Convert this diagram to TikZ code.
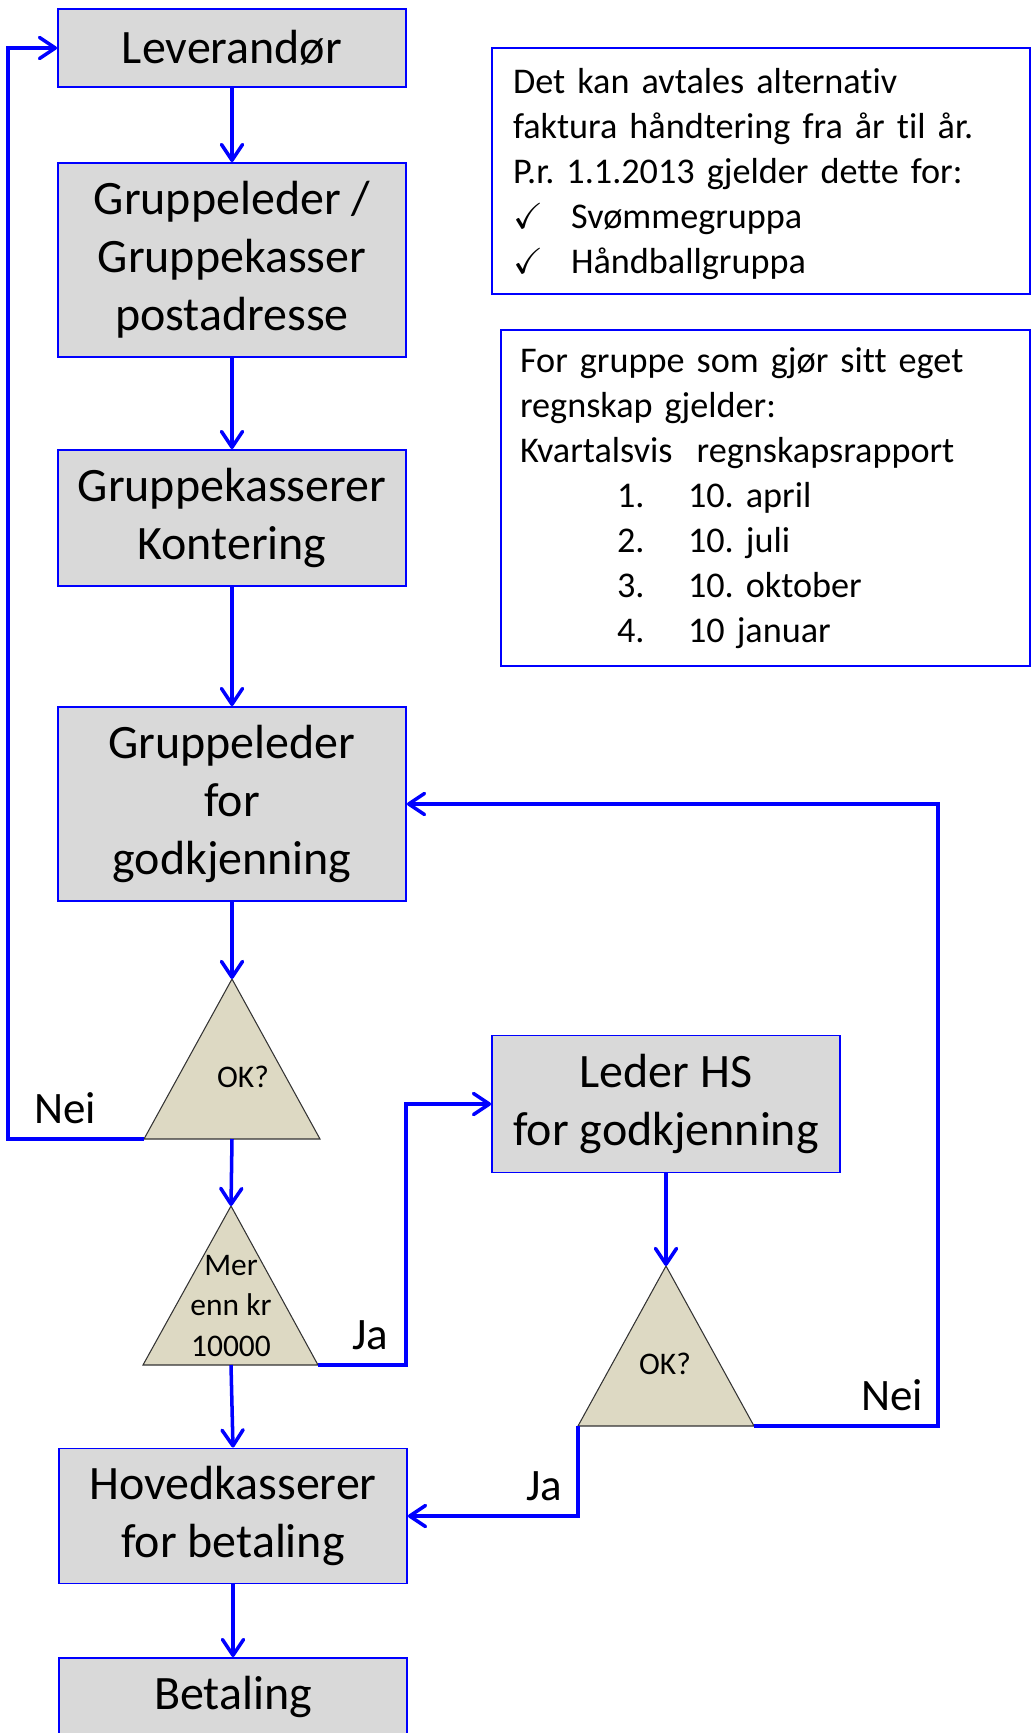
\documentclass[tikz,border=0pt]{standalone}
\usepackage{fontspec}
\setmainfont{Carlito}[Ligatures=NoCommon]
\usepackage{amssymb}
\usetikzlibrary{arrows.meta}
\frenchspacing

\definecolor{boxgray}{RGB}{217,217,217}
\definecolor{tribeige}{RGB}{221,217,195}
\definecolor{lineblue}{RGB}{0,0,255}

\begin{document}
\begin{tikzpicture}[x=0.02cm,y=-0.02cm,
  arr/.style={draw=lineblue,line width=2pt,-{Straight Barb[length=9pt,width=12pt,round]}},
  tri/.style={draw=black!80,fill=tribeige,line width=0.6pt},
  ttext/.style={align=center,inner sep=0pt,font=\fontsize{17.9}{22.8}\selectfont},
  lbl/.style={inner sep=0pt,font=\fontsize{25.6}{30}\selectfont}]
  \useasboundingbox (0,0) rectangle (1031,1733);
  \begin{scope}[every node/.style={draw=lineblue,line width=1.1pt,fill=boxgray,minimum width=6.96cm,align=center,font=\fontsize{27.3}{33}\selectfont}]
  \node[minimum height=1.56cm] (lev) at (232,48) {Leverandør};
  \node[minimum height=3.88cm] (gl) at (232,260) {Gruppeleder /\\Gruppekasser\\postadresse};
  \node[minimum height=2.72cm] (gk) at (232,518) {Gruppekasserer\\Kontering};
  \node[minimum height=3.88cm] (glg) at (232,804) {Gruppeleder\\for\\godkjenning};
  \node[minimum height=2.74cm] (hs) at (666,1104) {Leder HS\\for godkjenning};
  \node[minimum height=2.7cm] (hk) at (233,1516) {Hovedkasserer\\for betaling};
  \node[minimum height=1.56cm] (bet) at (233,1697) {Betaling};
  \end{scope}
  \begin{scope}[every node/.style={draw=lineblue,line width=1.1pt,align=left,font=\fontsize{20.6}{25.6}\selectfont}]
  \node[inner xsep=0.42cm,text width=9.92cm,minimum height=4.92cm] (info) at (761,171)
    {\strut Det kan avtales alternativ\\faktura håndtering fra år til år.\\P.r. 1.1.2013 gjelder dette for:\\\makebox[1.16cm][l]{$\checkmark$}Svømmegruppa\\\makebox[1.16cm][l]{$\checkmark$}Håndballgruppa};
  \node[inner xsep=0.38cm,text width=9.82cm,minimum height=6.72cm] (rapp) at (765.5,498)
    {For gruppe som gjør sitt eget\\regnskap gjelder:\\Kvartalsvis\ \ regnskapsrapport\\\hspace*{1.94cm}\makebox[1.42cm][l]{1.}10. april\\\hspace*{1.94cm}\makebox[1.42cm][l]{2.}10. juli\\\hspace*{1.94cm}\makebox[1.42cm][l]{3.}10. oktober\\\hspace*{1.94cm}\makebox[1.42cm][l]{4.}10 januar};
  \end{scope}
  \path (232,979) coordinate (ok1 top) (320,1139) coordinate (ok1 right)
        (144,1139) coordinate (ok1 left) (232,1139) coordinate (ok1 base);
  \draw[tri] (ok1 top) -- (ok1 right) -- (ok1 left) -- cycle;
  \node[ttext] (ok1) at (243,1077) {OK?};
  \path (231,1206) coordinate (mer top) (318,1365) coordinate (mer right)
        (143,1365) coordinate (mer left) (231,1365) coordinate (mer base);
  \draw[tri] (mer top) -- (mer right) -- (mer left) -- cycle;
  \node[ttext] (mer) at (231,1306) {Mer\\enn kr\\10000};
  \path (666,1266) coordinate (ok2 top) (754,1426) coordinate (ok2 right)
        (578,1426) coordinate (ok2 left);
  \draw[tri] (ok2 top) -- (ok2 right) -- (ok2 left) -- cycle;
  \node[ttext] (ok2) at (665,1364) {OK?};
  \draw[arr] (lev.south) -- (gl.north);
  \draw[arr] (gl.south) -- (gk.north);
  \draw[arr] (gk.south) -- (glg.north);
  \draw[arr] (glg.south) -- (ok1 top);
  \draw[arr] (ok1 left) -| ([xshift=-0.98cm]lev.west) -- (lev.west);
  \draw[arr] (ok1 base) -- (mer top);
  \draw[arr] (mer right) -- ++(88,0) |- (hs.west);
  \draw[arr] (mer base) -- (hk.north);
  \draw[arr] (hs.south) -- (ok2 top);
  \draw[arr] (ok2 right) -- ++(184,0) |- (glg.east);
  \draw[arr] (ok2 left) |- (hk.east);
  \draw[arr] (hk.south) -- (bet.north);
  \node[lbl] (nei1) at (65,1108) {Nei};
  \node[lbl] (ja1) at (370,1335) {Ja};
  \node[lbl] (nei2) at (892,1395) {Nei};
  \node[lbl] (ja2) at (544,1486) {Ja};
\end{tikzpicture}
\end{document}
